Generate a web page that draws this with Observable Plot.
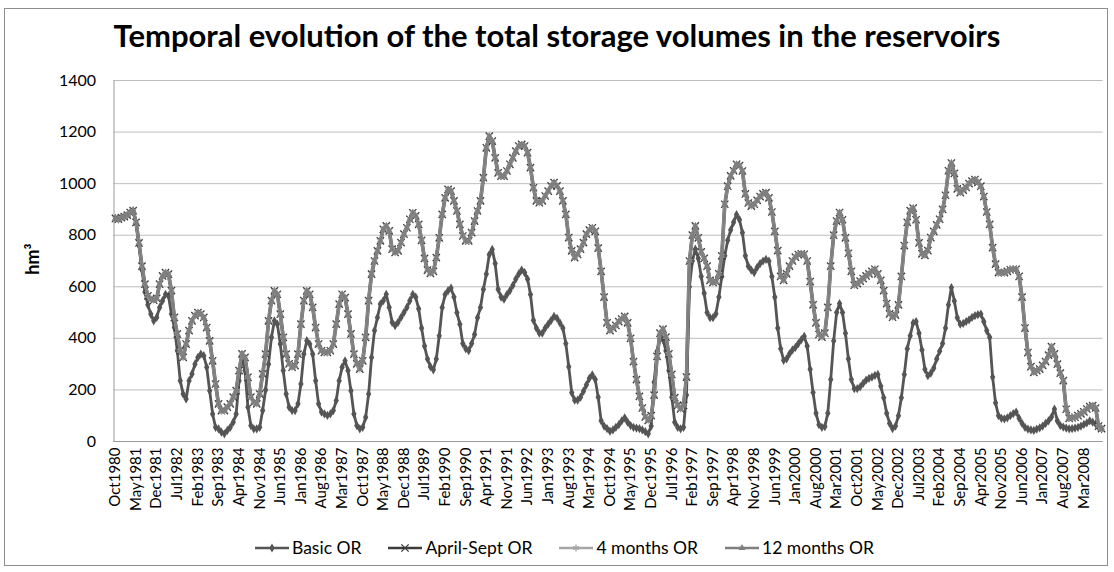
<!DOCTYPE html>
<html>
<head>
<meta charset="utf-8">
<script src="https://cdn.jsdelivr.net/npm/d3@7"></script>
<script src="https://cdn.jsdelivr.net/npm/@observablehq/plot@0.6"></script>
<style>
  body { margin: 0; background: #fff; font-family: Lato, "Open Sans", sans-serif; }
  #wrap { position: relative; width: 1114px; height: 572px; overflow: hidden; background: #fff; }
  #frame { position: absolute; left: 4px; top: 8px; width: 1104px; height: 558px; border: 1px solid #8c8c8c; box-sizing: border-box; }
  #title { position: absolute; left: 0; top: 16px; width: 1114px; text-align: center; font-weight: 700; font-size: 31px; color: #000; white-space: nowrap; }
  #chart { position: absolute; left: 0; top: 0; }
  #ylabel { position: absolute; left: 32px; top: 259px; transform: translate(-50%, -50%) rotate(-90deg); font-weight: 700; font-size: 18px; color: #000; white-space: nowrap; }
  #legend { position: absolute; left: 255px; top: 537px; display: flex; gap: 27px; align-items: center; font-size: 17.5px; color: #000; white-space: nowrap; }
  .item { display: flex; align-items: center; gap: 3px; }
</style>
</head>
<body>
<div id="wrap">
  <div id="frame"></div>
  <div id="chart"></div>
  <div id="title">Temporal evolution of the total storage volumes in the reservoirs</div>
  <div id="ylabel">hm³</div>
  <div id="legend"></div>
</div>
<script>
// ---- categories (monthly, Oct1980 .. Sep2008) ----
const months = d3.utcMonths(new Date(Date.UTC(1980, 9, 1)), new Date(Date.UTC(2008, 9, 1))).map(d3.utcFormat("%b%Y"));

// ---- tick labels ----
const tickLabels = ["Oct1980","May1981","Dec1981","Jul1982","Feb1983","Sep1983","Apr1984","Nov1984","Jun1985","Jan1986","Aug1986","Mar1987","Oct1987","May1988","Dec1988","Jul1989","Feb1990","Sep1990","Apr1991","Nov1991","Jun1992","Jan1993","Aug1993","Mar1994","Oct1994","May1995","Dec1995","Jul1996","Feb1997","Sep1997","Apr1998","Nov1998","Jun1999","Jan2000","Aug2000","Mar2001","Oct2001","May2002","Dec2002","Jul2003","Feb2004","Sep2004","Apr2005","Nov2005","Jun2006","Jan2007","Aug2007","Mar2008"];
const yTicks = [0, 200, 400, 600, 800, 1000, 1200, 1400];

// ---- series values (hm3), one per month ----
const basicOR = [
865,862,868,872,878,888,895,845,760,665,
580,530,494,468,481,520,546,571,565,494,
442,352,236,184,165,236,262,300,326,339,
333,288,197,107,55,49,36,30,43,55,
75,107,236,330,275,133,62,49,49,55,
120,200,300,404,468,455,378,275,184,133,
120,120,146,223,339,391,378,339,236,
146,114,107,101,107,120,159,236,288,313,
275,197,107,62,49,55,94,184,326,430,
481,533,546,571,520,462,449,462,481,500,
520,546,571,560,515,440,370,320,290,278,
320,410,520,570,585,595,560,500,455,380,
360,352,380,415,480,520,590,650,725,745,
690,590,560,552,570,585,605,630,650,665,
655,630,570,470,440,420,420,440,455,470,
485,478,460,440,380,290,190,160,160,172,
195,220,245,258,240,172,80,60,50,40,
45,55,65,80,92,75,62,55,52,50,
45,38,30,60,230,350,400,395,352,275,
172,75,55,49,55,180,600,700,746,
710,640,575,500,480,480,495,560,640,720,
780,820,850,880,860,810,720,680,665,655,
675,690,700,706,700,640,560,440,360,315,
320,340,355,365,380,395,408,370,280,190,
110,65,55,58,110,240,390,500,535,500,
420,320,240,205,205,212,225,238,245,250,
256,260,215,170,110,70,50,60,100,170,
260,360,410,460,465,420,355,280,255,265,
285,320,350,380,440,530,597,545,480,455,
458,465,472,481,488,492,494,465,430,404,
250,150,100,90,88,92,100,108,114,90,
70,55,48,45,43,48,53,60,70,80,
95,126,80,62,56,52,49,50,52,55,
60,66,72,80,75,68,55,49
];

const aprilSeptOR = [
865,862,868,872,878,888,895,850,770,680,
610,565,552,548,555,610,642,655,649,585,
481,417,352,326,378,430,468,488,500,494,
481,442,390,313,223,146,120,120,133,146,
172,197,275,340,326,249,172,152,146,184,
262,339,468,546,584,571,494,404,339,301,
288,294,339,455,546,584,571,520,442,
378,352,346,346,352,378,455,533,571,558,
494,417,339,301,281,313,404,546,649,700,
739,778,823,836,817,746,733,739,771,804,
829,862,887,875,842,780,710,665,652,660,
713,790,881,945,978,971,933,894,842,797,
778,778,810,855,894,933,1023,1139,1184,1165,
1100,1042,1029,1029,1049,1075,1100,1126,1146,1152,
1146,1120,1062,984,933,926,933,952,971,991,
1004,991,971,933,881,791,739,713,726,746,
771,804,820,829,815,750,660,560,460,430,
440,450,465,475,485,460,400,310,240,175,
130,95,82,100,180,330,420,436,405,340,
260,170,140,126,140,250,700,800,836,
790,735,710,680,625,617,620,650,720,920,
990,1030,1050,1075,1070,1049,960,925,913,920,
935,950,960,965,945,890,815,740,640,625,
650,680,700,715,725,728,726,700,620,530,
460,415,405,420,520,680,800,855,888,860,
790,730,660,606,612,622,632,642,650,660,
668,650,625,585,535,495,482,490,530,640,
760,850,895,905,860,770,728,722,740,791,
815,840,862,900,955,1050,1080,1040,980,965,
975,985,1000,1010,1016,1005,990,950,890,842,
752,688,655,655,655,660,666,668,668,640,
560,440,345,290,268,275,281,295,310,335,
368,340,300,265,236,125,90,92,94,100,
107,115,126,135,139,130,60,50
];
// the three alternative operating rules overlap in the picture
const fourMonthsOR = aprilSeptOR.slice();
const twelveMonthsOR = aprilSeptOR.slice();

// ---- series styling ----
const seriesNames = ["Basic OR", "April-Sept OR", "4 months OR", "12 months OR"];
const seriesValues = [basicOR, aprilSeptOR, fourMonthsOR, twelveMonthsOR];
const seriesColors = ["#555555", "#3c3c3c", "#a6a6a6", "#7f7f7f"];
const seriesWidths = [2.8, 3.6, 3.0, 2.4];
const seriesSymbols = ["diamond", "times", "asterisk", "triangle"];
const seriesFilled = [true, false, false, true];
const seriesR = [2.8, 3.4, 3.2, 2.6];

const rowsOf = k => months.map((m, i) => ({month: m, series: seriesNames[k], value: seriesValues[k][i]}));

const seriesMarks = seriesNames.flatMap((name, k) => {
  const rows = rowsOf(k);
  const dotOpts = seriesFilled[k]
    ? {x: "month", y: "value", symbol: seriesSymbols[k], r: seriesR[k], fill: seriesColors[k]}
    : {x: "month", y: "value", symbol: seriesSymbols[k], r: seriesR[k], stroke: seriesColors[k], strokeWidth: 1.3};
  return [
    Plot.line(rows, {x: "month", y: "value", stroke: seriesColors[k], strokeWidth: seriesWidths[k]}),
    Plot.dot(rows, dotOpts)
  ];
});

const chart = Plot.plot({
  width: 1114,
  height: 572,
  marginTop: 80,
  marginBottom: 131,
  marginLeft: 113.5,
  marginRight: 11.5,
  x: {type: "point", domain: months, padding: 0.5, align: 0.5},
  y: {domain: [0, 1400]},
  style: {fontFamily: "Lato, 'Open Sans', sans-serif", background: "transparent", color: "#000"},
  marks: [
    Plot.ruleY(yTicks, {stroke: "#bdbdbd", strokeWidth: 1}),
    Plot.frame({anchor: "left", stroke: "#9a9a9a"}),
    Plot.ruleY([0], {stroke: "#9a9a9a"}),
    Plot.axisY({ticks: yTicks, tickSize: 0, tickPadding: 18, fontSize: 16, label: null, tickFormat: d => String(d)}),
    Plot.axisX({ticks: tickLabels, tickRotate: -90, tickSize: 0, tickPadding: 6, fontSize: 15, label: null}),
    ...seriesMarks
  ]
});
document.getElementById("chart").appendChild(chart);

// ---- legend ----
const legend = d3.select("#legend");
seriesNames.forEach((name, k) => {
  const item = legend.append("div").attr("class", "item");
  const svg = item.append("svg").attr("width", 34).attr("height", 12);
  svg.append("line").attr("x1", 0).attr("x2", 34).attr("y1", 6).attr("y2", 6)
    .attr("stroke", seriesColors[k]).attr("stroke-width", 2.5);
  const sym = d3.symbol().type({
    diamond: d3.symbolDiamond, times: d3.symbolTimes, asterisk: d3.symbolAsterisk, triangle: d3.symbolTriangle
  }[seriesSymbols[k]]).size(Math.PI * seriesR[k] * seriesR[k]);
  const p = svg.append("path").attr("d", sym()).attr("transform", "translate(17,6)");
  if (seriesFilled[k]) p.attr("fill", seriesColors[k]);
  else p.attr("fill", "none").attr("stroke", seriesColors[k]).attr("stroke-width", 1.3);
  item.append("span").text(name);
});
</script>
</body>
</html>
